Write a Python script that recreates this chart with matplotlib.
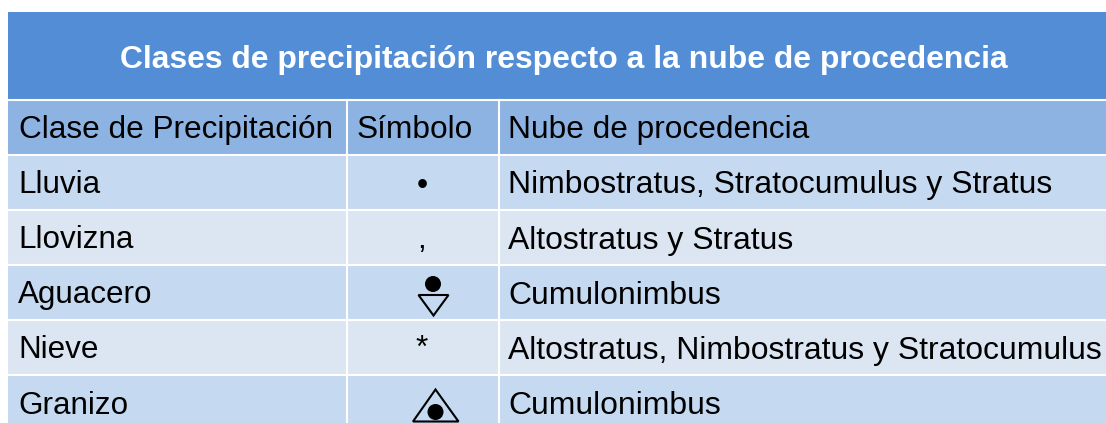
import matplotlib
matplotlib.use("Agg")
import matplotlib.pyplot as plt
from matplotlib.patches import Rectangle, Circle, Polygon

plt.rcParams['font.family'] = ['Liberation Sans', 'DejaVu Sans']

titulo = "Clases de precipitación respecto a la nube de procedencia"
encabezados = ["Clase de Precipitación", "Símbolo", "Nube de procedencia"]
clases = ["Lluvia", "Llovizna", "Aguacero", "Nieve", "Granizo"]
simbolos = ["•", ",", "", "*", ""]
nubes = ["Nimbostratus, Stratocumulus y Stratus", "Altostratus y Stratus", "Cumulonimbus",
         "Altostratus, Nimbostratus y Stratocumulus", "Cumulonimbus"]

W, H = 1106, 423
fig = plt.figure(figsize=(W / 100, H / 100), dpi=100)
ax = fig.add_axes([0, 0, 1, 1])
ax.set_xlim(0, W)
ax.set_ylim(H, 0)
ax.axis("off")

azul = "#528dd6"
cab = "#8db3e2"
oscuro = "#c5d9f1"
claro = "#dce6f2"
col_x = [8, 347, 498.5, 1106]
filas_y = [100.5, 155.5, 210, 265, 320, 375, 423]
base_y = [193, 248.5, 303.5, 358.5, 413.5]
simbolo_y = [194, 248.5, 0, 356.5, 0]

# titulo
ax.add_patch(Rectangle((8, 12), W - 8, 88, fc=azul, ec="none"))
ax.text(563.5, 68, titulo, color="white", fontsize=22.95, fontweight="bold", ha="center", va="baseline")

# filas
for i in range(6):
    color = cab if i == 0 else (oscuro if i % 2 == 1 else claro)
    ax.add_patch(Rectangle((8, filas_y[i]), W - 8, filas_y[i + 1] - filas_y[i], fc=color, ec="none"))

for x in col_x[1:3]:
    ax.plot([x, x], [100, H], color="white", lw=1.5)
for y in filas_y[:6]:
    ax.plot([8, W], [y, y], color="white", lw=1.5)

# encabezados
ty = 138
ax.text(19, ty, encabezados[0], fontsize=22.7, va="baseline", color="black")
ax.text(415, ty, encabezados[1], fontsize=22.8, va="baseline", ha="center", color="black")
ax.text(508, ty, encabezados[2], fontsize=22.8, va="baseline", color="black")

for i in range(5):
    ax.text(18, base_y[i], clases[i], fontsize=22.6, va="baseline", color="black")
    ax.text(508, base_y[i], nubes[i], fontsize=22.92, va="baseline", color="black")
    if simbolos[i]:
        ax.text(422, simbolo_y[i], simbolos[i], fontsize=22.8, va="baseline", ha="center", color="black")

# simbolo aguacero
ax.add_patch(Circle((433, 284), 8, fc="black", ec="none"))
ax.add_patch(Polygon([(418.5, 295), (448.5, 295), (433.5, 315.5)], closed=True, fc="none", ec="black", lw=1.5))

# simbolo granizo
ax.add_patch(Polygon([(413, 421.5), (435.5, 389.5), (458.5, 421.5)], closed=True, fc="none", ec="black", lw=1.5))
ax.add_patch(Circle((435.5, 412), 8, fc="black", ec="none"))

fig.savefig("out.png", dpi=100)
